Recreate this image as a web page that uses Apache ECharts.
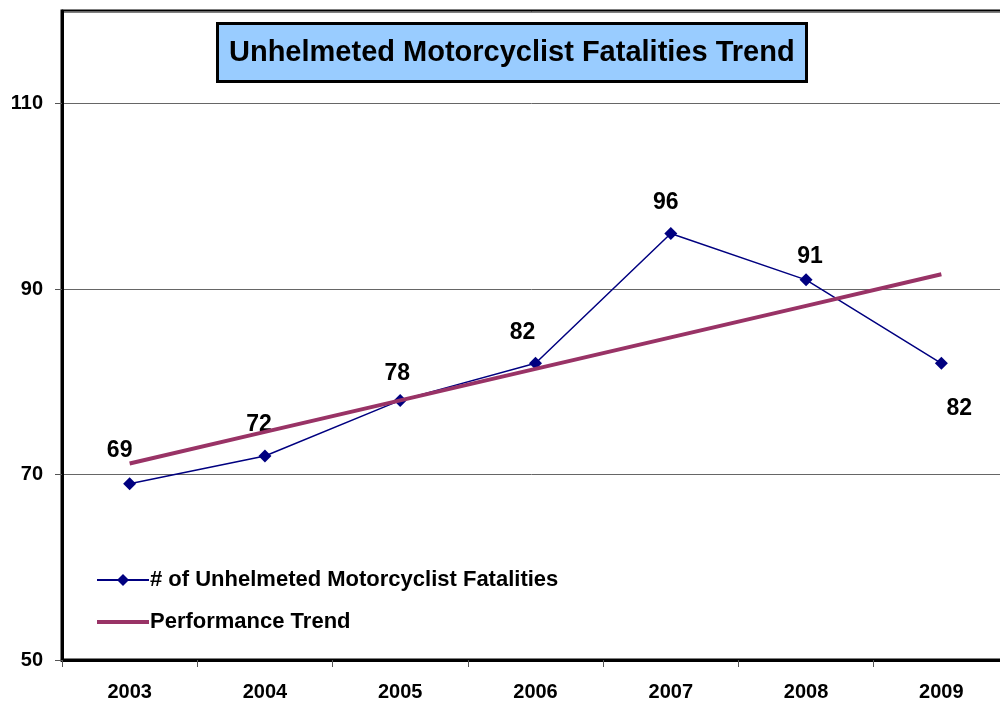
<!DOCTYPE html>
<html>
<head>
<meta charset="utf-8">
<script src="https://cdn.jsdelivr.net/npm/echarts@6/dist/echarts.min.js"></script>
<style>html,body{margin:0;padding:0;background:#fff;}#c{width:1000px;height:702px;}</style>
</head>
<body>
<div id="c"></div>
<script>
var years = ['2003', '2004', '2005', '2006', '2007', '2008', '2009'];
var fatalities = [69, 72, 78, 82, 96, 91, 82];
var trend = [71.2, 74.6, 78.0, 81.4, 84.8, 88.2, 91.6];
var yTicks = [50, 70, 90, 110];
var labelOffsets = [[-10, -33], [-6, -31], [-3, -27], [-13, -31], [-5, -31], [4, -23], [18, 45]];

var FONT = 'Liberation Sans, Arial, sans-serif';
var chart = echarts.init(document.getElementById('c'));
var fatalData = fatalities.map(function (v, i) {
  return { value: v, label: { offset: labelOffsets[i] } };
});
chart.setOption({
  animation: false,
  backgroundColor: '#fff',
  title: {
    text: 'Unhelmeted Motorcyclist Fatalities Trend',
    left: 217, top: 23,
    padding: [15, 12, 15, 12],
    backgroundColor: '#99CCFF',
    borderColor: '#000',
    borderWidth: 3,
    textStyle: { fontFamily: FONT, fontSize: 29, fontWeight: 'bold', color: '#000' }
  },
  legend: {
    orient: 'vertical',
    left: 90, top: 564,
    itemWidth: 52, itemHeight: 15, itemGap: 20,
    textStyle: { fontFamily: FONT, fontSize: 22, fontWeight: 'bold', color: '#000', padding: [0, 0, 0, -4] },
    data: [
      { name: '# of Unhelmeted Motorcyclist Fatalities', lineStyle: { width: 2 } },
      { name: 'Performance Trend', lineStyle: { width: 4 }, itemStyle: { opacity: 0, color: 'rgba(0,0,0,0)', borderWidth: 0 } }
    ]
  },
  grid: {
    left: 62, width: 947, top: 11, bottom: 42,
    outerBoundsMode: 'none',
    containLabel: false,
    show: true, borderColor: '#000', borderWidth: 3, backgroundColor: '#fff'
  },
  xAxis: {
    type: 'category',
    data: years,
    boundaryGap: true,
    axisLine: { lineStyle: { color: '#000', width: 3 } },
    axisTick: { show: true, interval: 0, length: 7, lineStyle: { color: '#555', width: 1 } },
    axisLabel: { margin: 22, fontFamily: FONT, fontSize: 20, fontWeight: 'bold', color: '#000' },
    splitLine: { show: false }
  },
  yAxis: {
    type: 'value',
    min: 50, max: 120, interval: 20,
    axisLine: { show: true, lineStyle: { color: '#000', width: 3 } },
    axisTick: { show: true, length: 7, lineStyle: { color: '#555', width: 1 } },
    axisLabel: {
      margin: 19, fontFamily: FONT, fontSize: 20, fontWeight: 'bold', color: '#000',
      showMaxLabel: false,
      formatter: function (v) { return yTicks.indexOf(v) >= 0 ? String(v) : ''; }
    },
    splitLine: { show: true, lineStyle: { color: '#666', width: 1 } }
  },
  series: [
    {
      name: '# of Unhelmeted Motorcyclist Fatalities',
      type: 'line',
      data: fatalData,
      z: 2,
      symbol: 'diamond',
      symbolSize: 13,
      color: '#000080',
      lineStyle: { color: '#000080', width: 1.5 },
      itemStyle: { color: '#000080' },
      label: {
        show: true, position: 'inside',
        fontFamily: FONT, fontSize: 23, fontWeight: 'bold', color: '#000'
      }
    },
    {
      name: 'Performance Trend',
      type: 'line',
      data: trend,
      z: 3,
      symbol: 'none',
      color: '#993366',
      lineStyle: { color: '#993366', width: 4 }
    }
  ]
});
</script>
</body>
</html>
